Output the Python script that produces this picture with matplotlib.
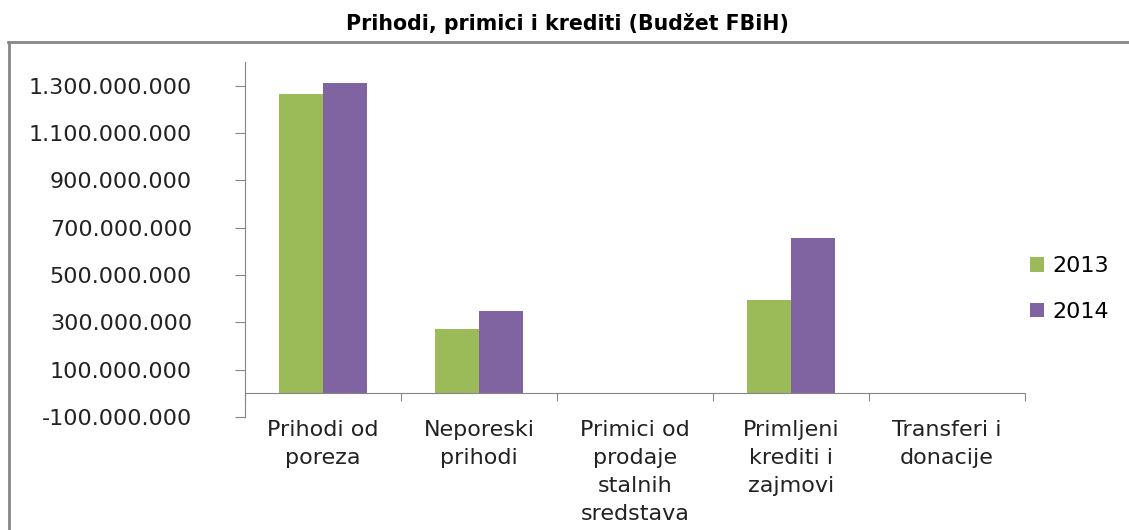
import matplotlib.pyplot as plt
from matplotlib.lines import Line2D

categories = ["Prihodi od\nporeza", "Neporeski\nprihodi", "Primici od\nprodaje\nstalnih\nsredstava",
              "Primljeni\nkrediti i\nzajmovi", "Transferi i\ndonacije"]
vals_2013 = [1263000000, 272000000, 0, 395000000, 0]
vals_2014 = [1313000000, 348000000, 0, 656000000, 0]
yticks = [-100000000, 100000000, 300000000, 500000000, 700000000, 900000000, 1100000000, 1300000000]

green = "#9bbb59"
purple = "#8064a2"
grey = "#868686"
font = ["DejaVu Sans"]

W, H = 1129, 530
fig = plt.figure(figsize=(W / 100, H / 100), dpi=100)

# outer chart frame (only top and left edges visible)
fig.add_artist(Line2D([8 / W, 1], [1 - 42 / H, 1 - 42 / H], color=grey, lw=2, transform=fig.transFigure))
fig.add_artist(Line2D([9 / W, 9 / W], [0, 1 - 42 / H], color=grey, lw=2, transform=fig.transFigure))

fig.text(567 / W, 1 - 23 / H, "Prihodi, primici i krediti (Budžet FBiH)", ha="center", va="center",
         fontsize=14.8, fontweight="bold", family="DejaVu Sans")

ax = fig.add_axes([245 / W, 113 / H, 780 / W, 355 / H])
x = range(len(categories))
w = 0.285
ax.bar([i - w / 2 for i in x], vals_2013, w, color=green, label="2013")
ax.bar([i + w / 2 for i in x], vals_2014, w, color=purple, label="2014")

ax.set_xlim(-0.5, len(categories) - 0.5)
ax.set_ylim(-100000000, 1400000000)
ax.set_yticks(yticks)
ax.set_yticklabels([f"{v:,}".replace(",", ".") for v in yticks], family=font, fontsize=16, color="#222222")
ax.tick_params(axis="y", length=7.2, color=grey, pad=31)

ax.set_xticks([i - 0.5 for i in range(len(categories) + 1)])
ax.set_xticklabels([])
ax.tick_params(axis="x", length=6, color=grey, direction="out")

for s in ["top", "right"]:
    ax.spines[s].set_visible(False)
ax.spines["left"].set_color(grey)
ax.spines["bottom"].set_color(grey)
ax.spines["bottom"].set_position(("data", 0))

for i, c in enumerate(categories):
    ax.annotate(c, (i, -100000000), xytext=(0, -2), textcoords="offset points", ha="center", va="top",
                family=font, fontsize=16, color="#222222", linespacing=1.5, annotation_clip=False)

fig.legend(loc="center left", bbox_to_anchor=(1010 / W, 1 - 289 / H), frameon=False,
           prop={"family": font, "size": 16}, handlelength=0.63, handleheight=0.63,
           handletextpad=0.36, labelspacing=1.15)

fig.savefig("out.png", dpi=100)
